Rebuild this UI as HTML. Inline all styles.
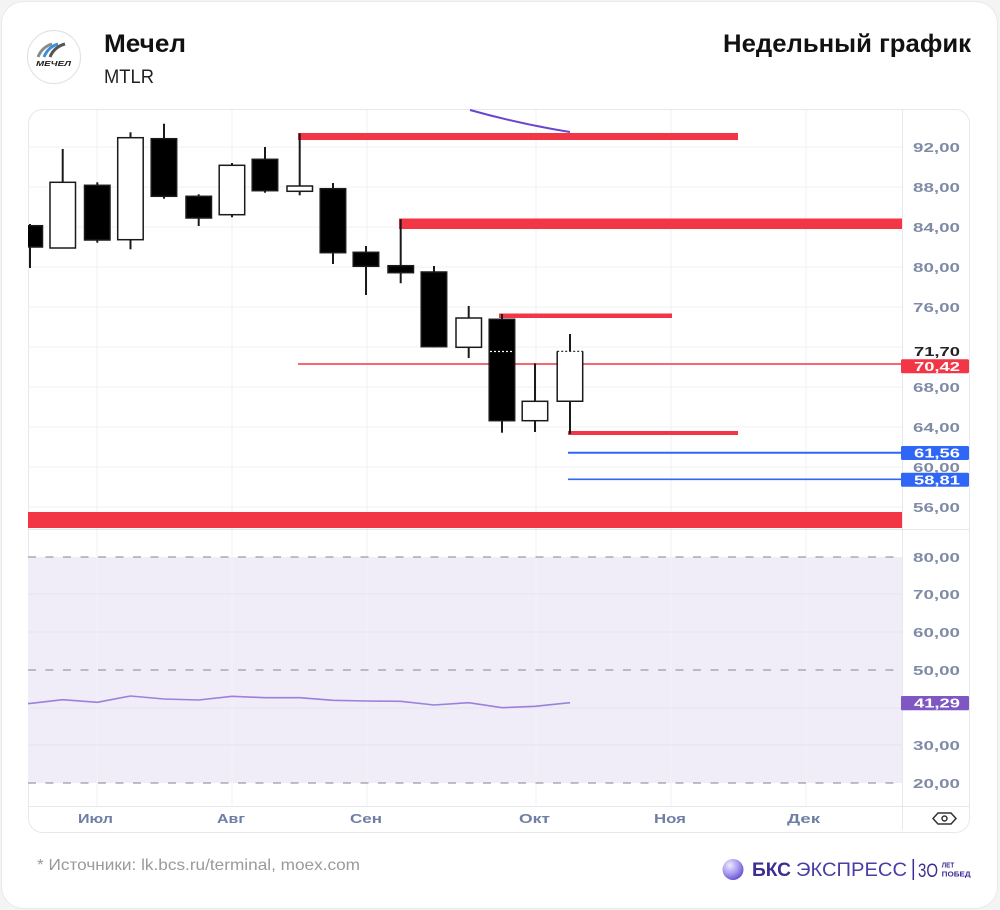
<!DOCTYPE html>
<html><head><meta charset="utf-8">
<style>
html,body{margin:0;padding:0;background:#f4f4f5;}
body{width:1000px;height:910px;overflow:hidden;position:relative;}
svg{position:absolute;left:0;top:0;}
text{font-family:"Liberation Sans","DejaVu Sans",sans-serif;}
</style></head><body>
<svg width="1000" height="910" viewBox="0 0 1000 910" xmlns="http://www.w3.org/2000/svg">
<defs>
<clipPath id="pc"><rect x="28" y="109" width="874" height="420"/></clipPath>
<clipPath id="rc"><rect x="28" y="530" width="874" height="276"/></clipPath>
<radialGradient id="bks" cx="0.35" cy="0.3" r="0.8">
<stop offset="0" stop-color="#eeeaff"/><stop offset="0.5" stop-color="#a99cf0"/><stop offset="1" stop-color="#5a45c8"/>
</radialGradient>
</defs>
<!-- outer card -->
<rect x="1.5" y="1.5" width="996" height="907" rx="22" fill="#fff" stroke="#e9e9eb"/>

<!-- header -->
<circle cx="54" cy="57" r="26.5" fill="#fff" stroke="#e3e3e3" stroke-width="1.2"/>
<path d="M38 57 Q42 47 52 44" stroke="#8a8a8a" stroke-width="3" fill="none"/>
<path d="M44 57 Q48 47 58 44" stroke="#3a8fd8" stroke-width="3" fill="none"/>
<path d="M50 57 Q54 47 65 44" stroke="#555" stroke-width="3" fill="none"/>
<text x="36" y="66" font-size="7.5" font-weight="bold" font-style="italic" fill="#222" textLength="35" lengthAdjust="spacingAndGlyphs">МЕЧЕЛ</text>
<text x="104" y="52" font-size="25" font-weight="bold" fill="#111" textLength="82" lengthAdjust="spacingAndGlyphs">Мечел</text>
<text x="104" y="83" font-size="19" fill="#222" textLength="50" lengthAdjust="spacingAndGlyphs">MTLR</text>
<text x="723" y="52" font-size="25" font-weight="bold" fill="#111" textLength="248" lengthAdjust="spacingAndGlyphs">Недельный график</text>

<!-- chart container -->
<rect x="28.5" y="109.5" width="941" height="723" rx="14" fill="#fff" stroke="#e6e8ee"/>

<!-- RSI shading -->
<rect x="28" y="557" width="874" height="226" fill="#f0edf8"/>

<!-- grid -->
<g stroke="#f0f2f7" stroke-width="1">
<line x1="28" y1="147" x2="902" y2="147"/><line x1="28" y1="187" x2="902" y2="187"/>
<line x1="28" y1="227" x2="902" y2="227"/><line x1="28" y1="267" x2="902" y2="267"/>
<line x1="28" y1="307" x2="902" y2="307"/><line x1="28" y1="347" x2="902" y2="347"/>
<line x1="28" y1="387" x2="902" y2="387"/><line x1="28" y1="427" x2="902" y2="427"/>
<line x1="28" y1="467" x2="902" y2="467"/><line x1="28" y1="507" x2="902" y2="507"/>
<line x1="97" y1="110" x2="97" y2="806"/><line x1="232" y1="110" x2="232" y2="806"/>
<line x1="367" y1="110" x2="367" y2="806"/><line x1="536" y1="110" x2="536" y2="806"/>
<line x1="671" y1="110" x2="671" y2="806"/><line x1="806" y1="110" x2="806" y2="806"/>
</g>
<g stroke="#e6e2f2" stroke-width="1">
<line x1="28" y1="594" x2="902" y2="594"/><line x1="28" y1="632" x2="902" y2="632"/>
<line x1="28" y1="745" x2="902" y2="745"/><line x1="28" y1="708" x2="902" y2="708"/>
</g>
<g stroke="#9a9aa6" stroke-width="1.3" stroke-dasharray="8 9.5">
<line x1="28" y1="557" x2="902" y2="557"/>
<line x1="28" y1="670" x2="902" y2="670"/>
<line x1="28" y1="783" x2="902" y2="783"/>
</g>

<!-- separators -->
<line x1="28" y1="529.5" x2="970" y2="529.5" stroke="#e6e8ee"/>
<line x1="28" y1="806.5" x2="970" y2="806.5" stroke="#e6e8ee"/>
<line x1="902.5" y1="110" x2="902.5" y2="830" stroke="#e6e8ee"/>

<!-- price pane -->
<g clip-path="url(#pc)">
<path d="M470 110 Q520 124 570 132" stroke="#6b45d0" stroke-width="2" fill="none"/>
<rect x="298" y="133" width="440" height="7" fill="#f23645"/>
<rect x="399" y="218.5" width="503" height="10.5" fill="#f23645"/>
<rect x="499" y="313.5" width="173" height="4.5" fill="#f23645"/>
<rect x="568" y="431" width="170" height="4" fill="#f23645"/>
<rect x="28" y="512" width="874" height="16" fill="#f23645"/>
<line x1="298" y1="364" x2="902" y2="364" stroke="#f23645" stroke-width="1.5"/>
<line x1="568" y1="452.7" x2="902" y2="452.7" stroke="#2f66f6" stroke-width="2"/>
<line x1="568" y1="479.3" x2="902" y2="479.3" stroke="#2f66f6" stroke-width="1.6"/>

<g stroke="#1a1a1a" stroke-width="2">
<line x1="30" y1="224" x2="30" y2="268"/>
<line x1="62.7" y1="149" x2="62.7" y2="248"/>
<line x1="97.3" y1="182.3" x2="97.3" y2="242.7"/>
<line x1="130.5" y1="132.3" x2="130.5" y2="249.3"/>
<line x1="164" y1="123.7" x2="164" y2="198.7"/>
<line x1="198.7" y1="194.3" x2="198.7" y2="226"/>
<line x1="232" y1="163" x2="232" y2="217.3"/>
<line x1="265" y1="147" x2="265" y2="192.7"/>
<line x1="299.7" y1="133.3" x2="299.7" y2="195.3"/>
<line x1="333" y1="183" x2="333" y2="264"/>
<line x1="366" y1="246" x2="366" y2="295"/>
<line x1="400.7" y1="219.3" x2="400.7" y2="283.3"/>
<line x1="434" y1="266" x2="434" y2="347.5"/>
<line x1="468.7" y1="306" x2="468.7" y2="358"/>
<line x1="502" y1="314" x2="502" y2="432.7"/>
<line x1="535" y1="363.3" x2="535" y2="432"/>
<line x1="570" y1="334" x2="570" y2="434"/>
</g>
<g stroke="#1a1a1a" stroke-width="1.5">
<rect x="17" y="225.7" width="25.5" height="21.3" fill="#000"/>
<rect x="50" y="182.3" width="25.5" height="65.7" fill="#fff"/>
<rect x="84.5" y="185.3" width="25.5" height="54.7" fill="#000"/>
<rect x="117.7" y="137.7" width="25.5" height="102" fill="#fff"/>
<rect x="151.2" y="138.7" width="25.5" height="57.6" fill="#000"/>
<rect x="186" y="196.3" width="25.5" height="21.7" fill="#000"/>
<rect x="219.2" y="165.3" width="25.5" height="49.4" fill="#fff"/>
<rect x="252.2" y="159.3" width="25.5" height="31.4" fill="#000"/>
<rect x="287" y="186" width="25.5" height="5.3" fill="#fff"/>
<rect x="320.2" y="188.7" width="25.5" height="64" fill="#000"/>
<rect x="353.2" y="252.3" width="25.5" height="14" fill="#000"/>
<rect x="388" y="265.7" width="25.5" height="7" fill="#000"/>
<rect x="421.2" y="272" width="25.5" height="74.7" fill="#000"/>
<rect x="456" y="318" width="25.5" height="29.3" fill="#fff"/>
<rect x="489.2" y="319.3" width="25.5" height="101.4" fill="#000"/>
<rect x="522.2" y="401.3" width="25.5" height="19.4" fill="#fff"/>
</g>
<rect x="557.2" y="351.3" width="25.5" height="50" fill="#fff" stroke="#1a1a1a" stroke-width="1.5" stroke-dasharray="0 25.5 200"/>
<line x1="557.2" y1="351.3" x2="582.7" y2="351.3" stroke="#1a1a1a" stroke-width="1.2" stroke-dasharray="2 2"/>
<line x1="490" y1="351.5" x2="514" y2="351.5" stroke="#fff" stroke-width="1.2" stroke-dasharray="2 2"/>
</g>

<!-- RSI line -->
<g clip-path="url(#rc)">
<polyline fill="none" stroke="#9c80dc" stroke-width="1.6" points="28,703.7 62.7,699.7 97.3,702.3 130.5,696 164,699 198.7,700 232,696.3 265,697.7 299.7,697.7 333,700.3 366,701 400.7,701.3 434,705 468.7,702.7 502,707.7 535,706.3 570,702.7"/>
</g>

<!-- price axis labels -->
<g font-size="13" font-weight="bold" fill="#7f8ba6">
<text x="913" y="152" textLength="47" lengthAdjust="spacingAndGlyphs">92,00</text>
<text x="913" y="192" textLength="47" lengthAdjust="spacingAndGlyphs">88,00</text>
<text x="913" y="232" textLength="47" lengthAdjust="spacingAndGlyphs">84,00</text>
<text x="913" y="272" textLength="47" lengthAdjust="spacingAndGlyphs">80,00</text>
<text x="913" y="312" textLength="47" lengthAdjust="spacingAndGlyphs">76,00</text>
<text x="913" y="392" textLength="47" lengthAdjust="spacingAndGlyphs">68,00</text>
<text x="913" y="432" textLength="47" lengthAdjust="spacingAndGlyphs">64,00</text>
<text x="913" y="472" textLength="47" lengthAdjust="spacingAndGlyphs">60,00</text>
<text x="913" y="512" textLength="47" lengthAdjust="spacingAndGlyphs">56,00</text>
<text x="913" y="562" textLength="47" lengthAdjust="spacingAndGlyphs">80,00</text>
<text x="913" y="599" textLength="47" lengthAdjust="spacingAndGlyphs">70,00</text>
<text x="913" y="637" textLength="47" lengthAdjust="spacingAndGlyphs">60,00</text>
<text x="913" y="675" textLength="47" lengthAdjust="spacingAndGlyphs">50,00</text>
<text x="913" y="750" textLength="47" lengthAdjust="spacingAndGlyphs">30,00</text>
<text x="913" y="788" textLength="47" lengthAdjust="spacingAndGlyphs">20,00</text>
</g>
<rect x="904" y="343" width="64" height="14" fill="#fff"/>
<text x="914" y="356" font-size="13" font-weight="bold" fill="#222" textLength="46" lengthAdjust="spacingAndGlyphs">71,70</text>
<rect x="901" y="359.3" width="68" height="14" rx="1.5" fill="#f23645"/>
<text x="914" y="371" font-size="13" font-weight="bold" fill="#fff" textLength="46" lengthAdjust="spacingAndGlyphs">70,42</text>
<rect x="901" y="446" width="68" height="14" rx="1.5" fill="#2f66f6"/>
<text x="914" y="457.7" font-size="13" font-weight="bold" fill="#fff" textLength="46" lengthAdjust="spacingAndGlyphs">61,56</text>
<rect x="901" y="472.7" width="68" height="14" rx="1.5" fill="#2f66f6"/>
<text x="914" y="484.4" font-size="13" font-weight="bold" fill="#fff" textLength="46" lengthAdjust="spacingAndGlyphs">58,81</text>
<rect x="901" y="696" width="68" height="14.3" rx="1" fill="#7e57c2"/>
<text x="914" y="707.7" font-size="13" font-weight="bold" fill="#fff" textLength="46" lengthAdjust="spacingAndGlyphs">41,29</text>

<!-- time axis -->
<g font-size="13" font-weight="bold" fill="#6f7fa3">
<text x="78" y="823" textLength="35" lengthAdjust="spacingAndGlyphs">Июл</text>
<text x="217" y="823" textLength="28" lengthAdjust="spacingAndGlyphs">Авг</text>
<text x="350" y="823" textLength="32" lengthAdjust="spacingAndGlyphs">Сен</text>
<text x="519" y="823" textLength="31" lengthAdjust="spacingAndGlyphs">Окт</text>
<text x="654" y="823" textLength="32" lengthAdjust="spacingAndGlyphs">Ноя</text>
<text x="787" y="823" textLength="33" lengthAdjust="spacingAndGlyphs">Дек</text>
</g>
<path d="M933 818.5 L938 813 L951 813 L956 818.5 L951 824 L938 824 Z" fill="none" stroke="#333" stroke-width="1.5"/>
<circle cx="944.5" cy="818.5" r="2.5" fill="none" stroke="#333" stroke-width="1.5"/>

<!-- footer -->
<text x="37" y="870" font-size="16" fill="#9a9a9a" textLength="323" lengthAdjust="spacingAndGlyphs">* Источники: lk.bcs.ru/terminal, moex.com</text>
<circle cx="733" cy="869.5" r="10.5" fill="url(#bks)"/>
<text x="752" y="876" font-size="19" font-weight="bold" fill="#3b2d92" textLength="39" lengthAdjust="spacingAndGlyphs">БКС</text>
<text x="796" y="876" font-size="19" fill="#4a3da6" textLength="111" lengthAdjust="spacingAndGlyphs">ЭКСПРЕСС</text>
<line x1="913.3" y1="859" x2="913.3" y2="880" stroke="#3b2d92" stroke-width="1.5"/>
<text x="918" y="877" font-size="19" fill="#3b2d92" textLength="20" lengthAdjust="spacingAndGlyphs">3O</text>
<text x="941.7" y="867.5" font-size="7" font-weight="bold" fill="#3b2d92" textLength="12.5" lengthAdjust="spacingAndGlyphs">ЛЕТ</text>
<text x="941.7" y="876.5" font-size="7" font-weight="bold" fill="#3b2d92" textLength="29" lengthAdjust="spacingAndGlyphs">ПОБЕД</text>
</svg>
</body></html>
